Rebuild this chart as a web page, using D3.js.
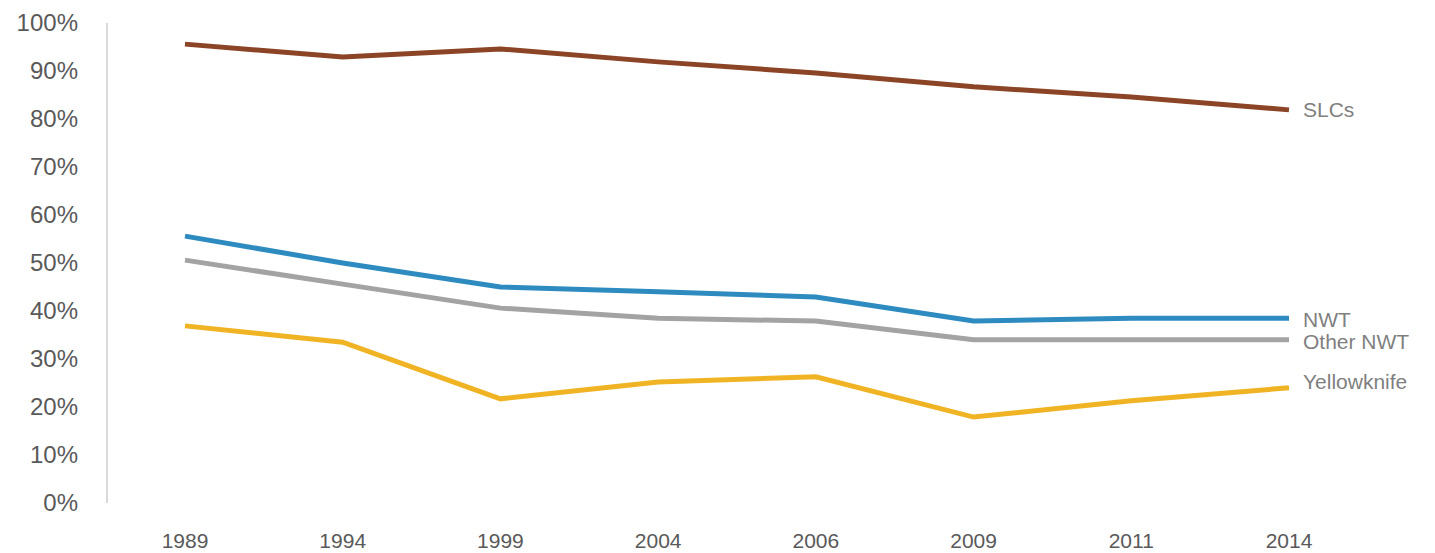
<!DOCTYPE html>
<html>
<head>
  <script src="https://cdnjs.cloudflare.com/ajax/libs/d3/7.8.5/d3.min.js"></script>
  <style>body{margin:0;background:#fff;} text{font-family:"Liberation Sans",Arial,sans-serif;}</style>
</head>
<body>
  <script>
    var years = ['1989','1994','1999','2004','2006','2009','2011','2014'];
    var slcs = [95.6, 92.9, 94.6, 91.9, 89.6, 86.7, 84.6, 81.9];
    var nwt = [55.6, 50, 45, 44, 42.9, 37.9, 38.5, 38.5];
    var otherNwt = [50.6, 45.6, 40.6, 38.5, 37.9, 34, 34, 34];
    var yellowknife = [36.9, 33.5, 21.7, 25.2, 26.3, 17.9, 21.3, 24];
    var yTicks = [0,10,20,30,40,50,60,70,80,90,100];

    var series = [
      {name:'SLCs', values:slcs, color:'#8B4426', dy:0},
      {name:'NWT', values:nwt, color:'#2E8BC0', dy:2},
      {name:'Other NWT', values:otherNwt, color:'#A3A3A3', dy:2},
      {name:'Yellowknife', values:yellowknife, color:'#F0B323', dy:-6}
    ];

    var width = 1435, height = 553;
    var svg = d3.select('body').append('svg').attr('width', width).attr('height', height);

    var x = d3.scalePoint().domain(years).range([185, 1289]);
    var y = d3.scaleLinear().domain([0, 100]).range([503, 23]);

    // y axis line and labels
    svg.append('line').attr('x1',107).attr('x2',107).attr('y1',23).attr('y2',503)
      .attr('stroke','#d9d9d9').attr('stroke-width',2);
    svg.selectAll('.yt').data(yTicks).enter().append('text')
      .attr('x',78).attr('y',d => y(d)+8).attr('text-anchor','end')
      .attr('font-size',24).attr('fill','#595959').text(d => d + '%');

    svg.selectAll('.xt').data(years).enter().append('text')
      .attr('x',d => x(d)).attr('y',548).attr('text-anchor','middle')
      .attr('font-size',21).attr('fill','#595959').text(d => d);

    var line = d3.line().x((d,i) => x(years[i])).y(d => y(d));
    series.forEach(function(s){
      svg.append('path').attr('d', line(s.values)).attr('fill','none')
        .attr('stroke', s.color).attr('stroke-width',5);
      svg.append('text').attr('x',1303).attr('y', y(s.values[s.values.length-1]) + 7 + s.dy)
        .attr('font-size',21).attr('fill','#7f7f7f').text(s.name);
    });
  </script>
</body>
</html>
